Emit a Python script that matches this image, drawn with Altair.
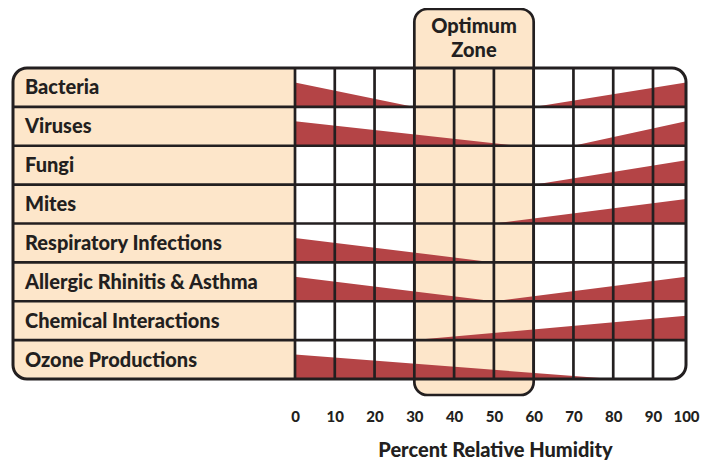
import altair as alt
import pandas as pd

# ---------------- data ----------------
categories = ["Bacteria", "Viruses", "Fungi", "Mites", "Respiratory Infections",
              "Allergic Rhinitis & Asthma", "Chemical Interactions", "Ozone Productions"]
# humidity breakpoints (% RH) and relative effect level (1 = strongest) per row
profile_rh = [
    [0, 30, 60, 100],
    [0, 56, 70, 100],
    [0, 60, 100],
    [0, 50, 100],
    [0, 50, 100],
    [0, 50, 100],
    [0, 30, 100],
    [0, 80, 100],
]
profile_level = [
    [1, 0, 0, 1],
    [1, 0, 0, 1],
    [0, 0, 1],
    [0, 0, 1],
    [1, 0, 0],
    [1, 0, 1],
    [0, 0, 1],
    [1, 0, 0],
]
rh_ticks = [0, 10, 20, 30, 40, 50, 60, 70, 80, 90, 100]
optimum_zone = [30, 60]
zone_title = ["Optimum", "Zone"]
x_title = "Percent Relative Humidity"

# ---------------- style / layout ----------------
DARK = "#231f20"
PEACH = "#fde6ca"
RED = "#b44446"
FONT = "Lato"
LABEL_X = -71          # left edge of the label panel, in x units
WEDGE = 0.63           # wedge height as fraction of a row
N = len(categories)
Y_MIN, Y_MAX = -1.5177, 8.4116
LW = 2.7

xs = alt.Scale(domain=[LABEL_X, 0, 90, 100], range=[0, 282, 640, 673], nice=False, zero=False)
ys = alt.Scale(domain=[Y_MIN, Y_MAX], reverse=True, nice=False, zero=False)
x_axis = alt.Axis(values=rh_ticks, title=x_title, domain=False, ticks=False, grid=False,
                  labelFont=FONT, labelFontWeight=900, labelFontSize=15, labelColor=DARK,
                  labelPadding=14, labelFlush=False,
                  titleFont=FONT, titleFontWeight=900, titleFontSize=20, titleColor=DARK,
                  titlePadding=16, titleX=482)


def X(f):
    return alt.X(f, type="quantitative", scale=xs, axis=x_axis)


def Y(f):
    return alt.Y(f, type="quantitative", scale=ys, axis=None)


# wedge table
rows = []
for i, cat in enumerate(categories):
    for rh, lv in zip(profile_rh[i], profile_level[i]):
        rows.append({"cat": cat, "rh": rh, "top": i + 1 - WEDGE * lv, "base": i + 1})
wedges_df = pd.DataFrame(rows)

box_df = pd.DataFrame([{"x": LABEL_X, "x2": 100, "y": 0, "y2": N}])
panel_df = pd.DataFrame([{"x": LABEL_X, "x2": 0, "y": 0, "y2": N}])
zone_df = pd.DataFrame([{"x": optimum_zone[0], "x2": optimum_zone[1], "y": Y_MIN, "y2": Y_MAX}])
vgrid_df = pd.DataFrame({"x": rh_ticks[:-1], "y": 0, "y2": N})
hgrid_df = pd.DataFrame({"y": list(range(1, N)), "x": LABEL_X, "x2": 100})
labels_df = pd.DataFrame({"cat": categories, "y": [i + 0.5 for i in range(N)], "x": LABEL_X})
zt_df = pd.DataFrame({"t": zone_title, "x": sum(optimum_zone) / 2, "y": [-1.05, -0.44]})

table_bg = alt.Chart(box_df).mark_rect(fill="white", cornerRadius=14).encode(
    x=X("x"), x2="x2", y=Y("y"), y2="y2")
zone = alt.Chart(zone_df).mark_rect(fill=PEACH, stroke=DARK, strokeWidth=LW, cornerRadius=13).encode(
    x=X("x"), x2="x2", y=Y("y"), y2="y2")
panel = alt.Chart(panel_df).mark_rect(fill=PEACH, cornerRadiusTopLeft=14, cornerRadiusBottomLeft=14).encode(
    x=X("x"), x2="x2", y=Y("y"), y2="y2")
wedges = alt.Chart(wedges_df).mark_area(color=RED, opacity=1, interpolate="linear").encode(
    x=X("rh"), y=Y("top"), y2="base", detail="cat:N")
vgrid = alt.Chart(vgrid_df).mark_rule(color=DARK, strokeWidth=LW).encode(
    x=X("x"), y=Y("y"), y2="y2")
hgrid = alt.Chart(hgrid_df).mark_rule(color=DARK, strokeWidth=LW).encode(
    x=X("x"), x2="x2", y=Y("y"))
border = alt.Chart(box_df).mark_rect(fill="white", fillOpacity=0, stroke=DARK, strokeWidth=3,
                                     cornerRadius=14).encode(
    x=X("x"), x2="x2", y=Y("y"), y2="y2")
labels = alt.Chart(labels_df).mark_text(align="left", baseline="middle", dx=12, dy=1,
                                        font=FONT, fontWeight=900, fontSize=20, color=DARK).encode(
    x=X("x"), y=Y("y"), text="cat:N")
ztitle = alt.Chart(zt_df).mark_text(align="center", baseline="middle",
                                    font=FONT, fontWeight=900, fontSize=20, color=DARK).encode(
    x=X("x"), y=Y("y"), text="t:N")

chart = alt.layer(table_bg, zone, panel, wedges, vgrid, hgrid, border, labels, ztitle).properties(
    width=673, height=386,
    autosize=alt.AutoSizeParams(type="none"),
    padding={"left": 5, "top": 1, "right": 20, "bottom": 70},
).configure_view(stroke=None)

chart.save("out.html", embed_options={"renderer": "svg", "actions": False})
